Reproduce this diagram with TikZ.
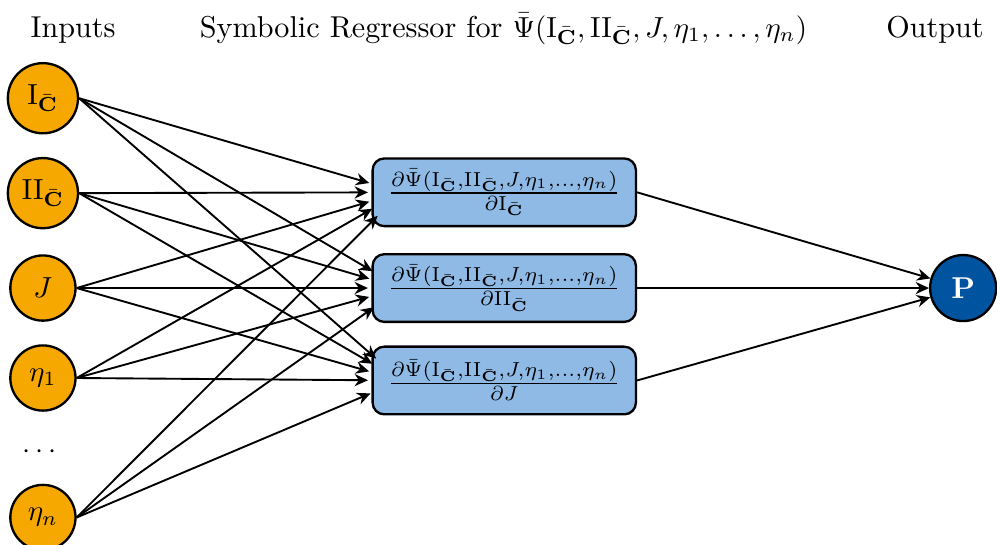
\documentclass[tikz,border=0pt]{standalone}
\usepackage{amsmath}
\usepackage{amssymb}
\usetikzlibrary{arrows.meta}

\definecolor{rwthorange}{HTML}{F6A800}
\definecolor{rwthblue}{HTML}{00549F}
\definecolor{rwthlightblue}{HTML}{8EBAE5}

\newcommand{\Cbar}{\bar{\mathbf{C}}}
\newcommand{\PsiArgs}{\bar{\Psi}(\mathrm{I}_{\Cbar},\mathrm{II}_{\Cbar},J,\eta_1,\ldots,\eta_n)}

\tikzset{
    inputnode/.style={circle, draw=black, fill=rwthorange, thick, minimum size=0.79cm, inner sep=1pt},
    hiddennode/.style={circle, minimum size=0.79cm, inner sep=0pt},
    derivbox/.style={rectangle, rounded corners=4pt, draw=black, fill=rwthlightblue, thick,
        minimum width=3.19cm, minimum height=0.82cm, inner sep=1pt},
    outputnode/.style={circle, draw=black, fill=rwthblue, thick, minimum size=0.8cm, text=white, font=\fontsize{10.4}{12.5}\selectfont\bfseries},
    headline/.style={anchor=base},
    link/.style={->, line width=0.65pt}
}

\begin{document}
\begin{tikzpicture}[>={Stealth[length=4.6pt, width=4.2pt, inset=1.5pt]}, font=\fontsize{10.4}{12.5}\selectfont]
    \useasboundingbox (0,0) rectangle (12.08,-6.6);

    % Ueberschriften
    \node[headline] (hin) at (0.885,-0.45) {Inputs};
    \node[headline] (hsr) at (6.10,-0.45) {Symbolic Regressor for $\bar{\Psi}(\mathrm{I}_{\Cbar}, \mathrm{II}_{\Cbar}, J, \eta_1, \ldots, \eta_n)$};
    \node[headline] (hout) at (11.33,-0.45) {Output};

    % Eingaben
    \node[inputnode, minimum size=0.85cm] (i1) at (0.52,-1.19) {$\mathrm{I}_{\Cbar}$};
    \node[inputnode, minimum size=0.85cm] (i2) at (0.52,-2.34) {$\mathrm{II}_{\Cbar}$};
    \node[inputnode] (i3) at (0.52,-3.49) {$J$};
    \node[inputnode] (i4) at (0.52,-4.58) {$\eta_1$};
    \node (dots) at (0.51,-5.48) {$\cdots$};
    \node[inputnode] (i5) at (0.52,-6.27) {$\eta_n$};

    % Ableitungen (Zielpunkte der Pfeile links an den Kaesten)
    \node[hiddennode] (h1) at (4.86,-2.33) {};
    \node[hiddennode] (h2) at (4.86,-3.49) {};
    \node[hiddennode] (h3) at (4.86,-4.61) {};

    \node[derivbox] (b1) at (6.11,-2.33) {$\frac{\partial\PsiArgs}{\partial\mathrm{I}_{\Cbar}}$};
    \node[derivbox] (b2) at (6.11,-3.49) {$\frac{\partial\PsiArgs}{\partial\mathrm{II}_{\Cbar}}$};
    \node[derivbox] (b3) at (6.11,-4.61) {$\frac{\partial\PsiArgs}{\partial J}$};

    % Ausgabe
    \node[outputnode] (out) at (11.67,-3.49) {P};

    % Verbindungen Eingaben -> Ableitungen
    \draw[link] (i1.east) -- (h1);
    \draw[link] (i1.east) -- (h2);
    \draw[link] (i1.east) -- (h3);
    \draw[link] (i2.east) -- (h1);
    \draw[link] (i2.east) -- (h2);
    \draw[link] (i2.east) -- (h3);
    \draw[link] (i3.east) -- (h1);
    \draw[link] (i3.east) -- (h2);
    \draw[link] (i3.east) -- (h3);
    \draw[link] (i4.east) -- (h1);
    \draw[link] (i4.east) -- (h2);
    \draw[link] (i4.east) -- (h3);
    \draw[link] (i5.east) -- (h1);
    \draw[link] (i5.east) -- (h2);
    \draw[link] (i5.east) -- (h3);

    % Verbindungen Ableitungen -> Ausgabe
    \draw[link] (b1.east) -- (out);
    \draw[link] (b2.east) -- (out);
    \draw[link] (b3.east) -- (out);
\end{tikzpicture}
\end{document}
